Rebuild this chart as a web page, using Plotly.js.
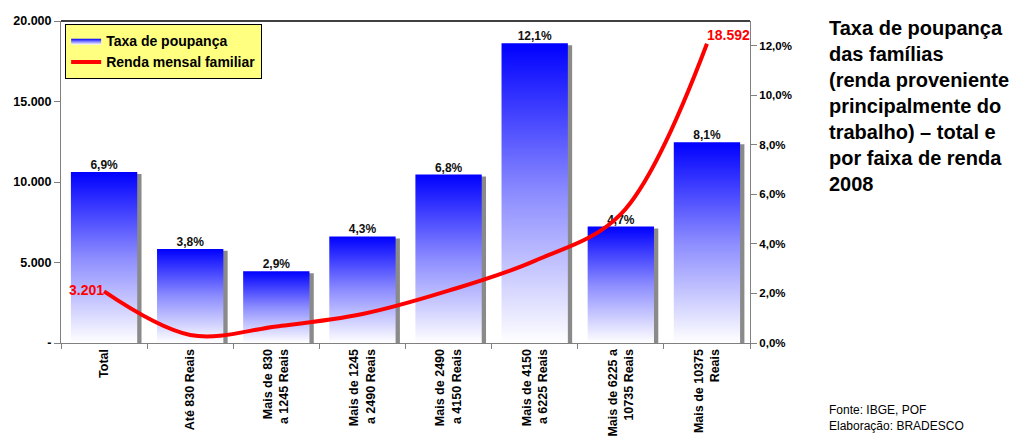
<!DOCTYPE html>
<html>
<head>
<meta charset="utf-8">
<script src="https://cdn.plot.ly/plotly-3.0.1.min.js"></script>
<style>
  body { margin: 0; background: #fff; }
  #plotDiv { width: 1024px; height: 439px; }
</style>
</head>
<body>
<div id="plotDiv"></div>
<script>
// categories (income brackets)
let categories = ["Total", "Até 830 Reais", "Mais de 830<br>a 1245 Reais", "Mais de 1245<br>a 2490 Reais",
  "Mais de 2490<br>a 4150 Reais", "Mais de 4150<br>a 6225 Reais", "Mais de 6225 a<br>10735 Reais", "Mais de 10375<br>Reais"];

// savings rate, % (right axis)
let taxaPoupanca = [6.9, 3.8, 2.9, 4.3, 6.8, 12.1, 4.7, 8.1];

let rendaMensal = [3201, 500, 1030, 1800, 3250, 5100, 8000, 18592];

let leftTickVals = [0, 5000, 10000, 15000, 20000];
let leftTickText = ["-", "5.000", "10.000", "15.000", "20.000"];
let rightTickVals = [0, 2, 4, 6, 8, 10, 12];
let rightTickText = ["0,0%", "2,0%", "4,0%", "6,0%", "8,0%", "10,0%", "12,0%"];

const FONT = "Liberation Sans, Arial, sans-serif";
const barWidth = 0.77;

let idx = categories.map((c, i) => i);
let data = [];

// gray drop shadow behind bars
data.push({
  x: idx,
  y: taxaPoupanca.map(v => v - 0.08),
  yaxis: "y",
  type: "bar",
  width: barWidth,
  offset: -barWidth / 2 + 0.05,
  marker: { color: "#8a8a8a" },
  showlegend: false,
  hoverinfo: "skip"
});

// one filled polygon per bar so each gets its own vertical gradient
for (let i = 0; i < taxaPoupanca.length; i++) {
  let v = taxaPoupanca[i];
  data.push({
    x: [i - barWidth / 2, i + barWidth / 2, i + barWidth / 2, i - barWidth / 2, i - barWidth / 2],
    y: [0, 0, v, v, 0],
    yaxis: "y",
    type: "scatter",
    mode: "lines",
    fill: "toself",
    line: { width: 0, color: "#2020ff" },
    fillgradient: {
      type: "vertical",
      colorscale: [[0, "#ffffff"], [0.5, "#8c8cff"], [1, "#0000ff"]]
    },
    name: "Taxa de poupança",
    legendgroup: "taxa",
    showlegend: i === 0,
    hoverinfo: "skip"
  });
}

// percent labels on top of bars
data.push({
  x: idx,
  y: taxaPoupanca,
  yaxis: "y",
  type: "scatter",
  mode: "text",
  text: taxaPoupanca.map(v => v.toFixed(1).replace(".", ",") + "%"),
  textposition: "top center",
  textfont: { family: FONT, size: 12, color: "#111", weight: "bold" },
  showlegend: false,
  hoverinfo: "skip",
  cliponaxis: false
});

// income line (drawn on the overlaying axis so it sits above the bars)
let lineText = rendaMensal.map(() => "");
lineText[0] = "3.201";
lineText[lineText.length - 1] = "18.592";
let linePos = rendaMensal.map(() => "middle center");
linePos[0] = "middle left";
linePos[linePos.length - 1] = "top right";

data.push({
  x: idx,
  y: rendaMensal,
  yaxis: "y2",
  type: "scatter",
  mode: "lines+text",
  line: { color: "#ff0000", width: 4, shape: "spline", smoothing: 1 },
  text: lineText,
  textposition: linePos,
  textfont: { family: FONT, size: 14, color: "#ff0000", weight: "bold" },
  name: "Renda mensal familiar",
  cliponaxis: false
});

let layout = {
  width: 1024,
  height: 439,
  margin: { l: 61, r: 274, t: 21, b: 96 },
  paper_bgcolor: "#ffffff",
  plot_bgcolor: "#ffffff",
  separators: ",.",
  font: { family: FONT, size: 12, color: "#000" },
  showlegend: true,
  legend: {
    x: 0.006, y: 0.99, xanchor: "left", yanchor: "top",
    bgcolor: "#ffff80",
    bordercolor: "#000",
    borderwidth: 1,
    font: { family: FONT, size: 14, color: "#000", weight: "bold" },
    tracegroupgap: 0
  },
  xaxis: {
    range: [-0.5, 7.5],
    tickvals: idx,
    ticktext: categories,
    tickangle: -90,
    ticks: "",
    showgrid: false,
    zeroline: false,
    showline: true,
    linecolor: "#808080",
    linewidth: 1,
    tickfont: { family: FONT, size: 12.5, color: "#000", weight: "bold" },
    minor: { tick0: -0.5, dtick: 1, ticks: "outside", ticklen: 5, tickcolor: "#808080", showgrid: false }
  },
  // right axis: savings rate
  yaxis: {
    side: "right",
    range: [0, 13],
    tickvals: rightTickVals,
    ticktext: rightTickText,
    ticks: "outside",
    ticklen: 6,
    tickcolor: "#808080",
    showgrid: false,
    zeroline: false,
    showline: true,
    linecolor: "#808080",
    tickfont: { family: FONT, size: 11.5, color: "#000", weight: "bold" }
  },
  // left axis: income
  yaxis2: {
    overlaying: "y",
    side: "left",
    range: [0, 20000],
    tickvals: leftTickVals,
    ticktext: leftTickText,
    ticks: "outside",
    ticklen: 6,
    tickcolor: "#808080",
    showgrid: false,
    zeroline: false,
    showline: true,
    linecolor: "#808080",
    tickfont: { family: FONT, size: 12.5, color: "#000", weight: "bold" }
  },
  shapes: [
    { type: "line", xref: "paper", yref: "paper", x0: 0, x1: 1, y0: 1, y1: 1, line: { color: "#000", width: 1.5 } }
  ],
  annotations: [
    {
      xref: "paper", yref: "paper", x: 1.112, y: 1.02, xanchor: "left", yanchor: "top",
      align: "left", showarrow: false,
      text: "Taxa de poupança<br>das famílias<br>(renda proveniente<br>principalmente do<br>trabalho) – total e<br>por faixa de renda<br>2008",
      font: { family: FONT, size: 20, color: "#000", weight: "bold" }
    },
    {
      xref: "paper", yref: "paper", x: 1.112, y: -0.285, xanchor: "left", yanchor: "bottom",
      align: "left", showarrow: false,
      text: "Fonte: IBGE, POF<br>Elaboração: BRADESCO",
      font: { family: FONT, size: 12, color: "#000" }
    }
  ]
};

Plotly.newPlot("plotDiv", data, layout, { displayModeBar: false, staticPlot: true });
</script>
</body>
</html>
